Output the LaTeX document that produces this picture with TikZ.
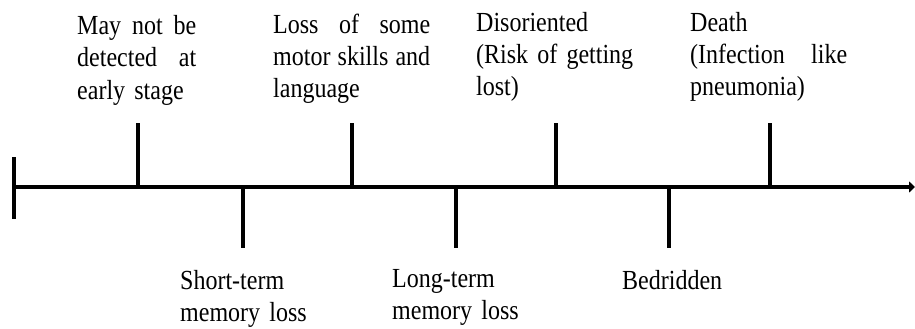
\documentclass[tikz,border=0pt]{standalone}
\usepackage{fontspec}
\setmainfont{Liberation Serif}[FakeStretch=0.87]
\usetikzlibrary{arrows.meta}
\tikzset{
  axisline/.style={line width=4pt, -{Triangle[length=6pt,width=11pt]}},
  tickline/.style={line width=4pt},
  lbl/.style={inner sep=0pt, anchor=base west, align=left, font=\fontsize{27.6}{32}\selectfont}
}
\begin{document}
\begin{tikzpicture}[x=1pt,y=-1pt]
\useasboundingbox (0,0) rectangle (915,329);
% axis
\coordinate (start) at (14,187);
\coordinate (end) at (915,187);
\coordinate (bartop) at (14,157);
\coordinate (barbot) at (14,219);
\draw[tickline] (bartop) -- (barbot);
\draw[axisline] (start) -- (end);
% up ticks
\foreach \n/\x in {u1/138,u2/352,u3/556,u4/770}{
  \coordinate (\n a) at (\x,187);
  \coordinate (\n b) at (\x,123);
  \draw[tickline] (\n a) -- (\n b);
}
% down ticks
\foreach \n/\x in {d1/243,d2/456,d3/669}{
  \coordinate (\n a) at (\x,187);
  \coordinate (\n b) at (\x,248);
  \draw[tickline] (\n a) -- (\n b);
}
% labels above
\node[lbl, text width=119pt] (ta) at (77,35) {May\hfill not\hfill be\\detected\hfill at\\early stage};
\node[lbl, text width=157pt] (tb) at (273,34) {Loss\hfill of\hfill some\\motor\hfill skills\hfill and\\language};
\node[lbl, text width=157pt] (tc) at (476,32) {Disoriented\\(Risk\hfill of\hfill getting\\lost)};
\node[lbl, text width=157pt] (td) at (690,32) {Death\\(Infection\hfill like\\pneumonia)};
% labels below
\node[lbl, text width=140pt] (te) at (180,289) {Short-term\\memory loss};
\node[lbl, text width=140pt] (tf) at (392,287) {Long-term\\memory loss};
\node[lbl, text width=140pt] (tg) at (622,289) {Bedridden};
\end{tikzpicture}
\end{document}
